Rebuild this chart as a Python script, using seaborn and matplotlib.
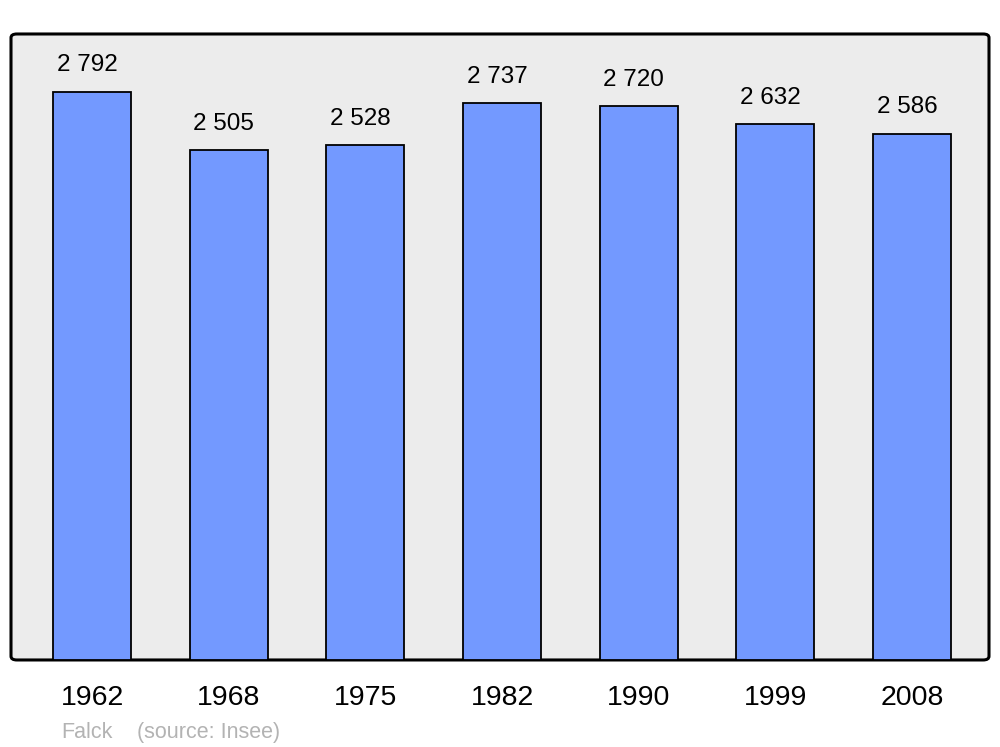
import pandas as pd
import seaborn as sns
from matplotlib import pyplot as plt
from matplotlib.patches import FancyBboxPatch

# population par recensement
years = ['1962', '1968', '1975', '1982', '1990', '1999', '2008']
population = [2792, 2505, 2528, 2737, 2720, 2632, 2586]
labels = ['2 792', '2 505', '2 528', '2 737', '2 720', '2 632', '2 586']

df = pd.DataFrame({'year': years, 'pop': population})

sns.set_theme(style='white')
plt.rcParams['font.family'] = ['Liberation Sans', 'DejaVu Sans']

fig = plt.figure(figsize=(10, 7.47), dpi=100)
ax = fig.add_axes([0.011, 0.1165, 0.978, 0.838])
ax.set_facecolor('none')

# fond gris avec coins arrondis
frame = FancyBboxPatch((0, 0), 1, 1, boxstyle='round,pad=0,rounding_size=0.006',
                       transform=ax.transAxes, facecolor='#ececec', edgecolor='black',
                       linewidth=2.2, zorder=0, clip_on=False)
ax.add_patch(frame)

sns.barplot(data=df, x='year', y='pop', color='#7399ff', saturation=1,
            width=0.57, edgecolor='black', linewidth=1.3, ax=ax, zorder=2)

for i, (v, t) in enumerate(zip(population, labels)):
    ax.text(i - 0.037, v + 75, t, ha='center', va='bottom', fontsize=17.5, color='black')

ax.set_xlim(-0.593, 6.563)
ax.set_ylim(0, 3075)
ax.set_yticks([])
ax.set_xlabel('')
ax.set_ylabel('')
for s in ax.spines.values():
    s.set_visible(False)
ax.tick_params(axis='x', length=0, labelsize=20.5, pad=18, colors='black')

fig.text(0.061, 0.012, 'Falck', fontsize=15.5, color='#b3b3b3')
fig.text(0.137, 0.012, '(source: Insee)', fontsize=15.5, color='#b3b3b3')

fig.savefig('out.png', dpi=100)
